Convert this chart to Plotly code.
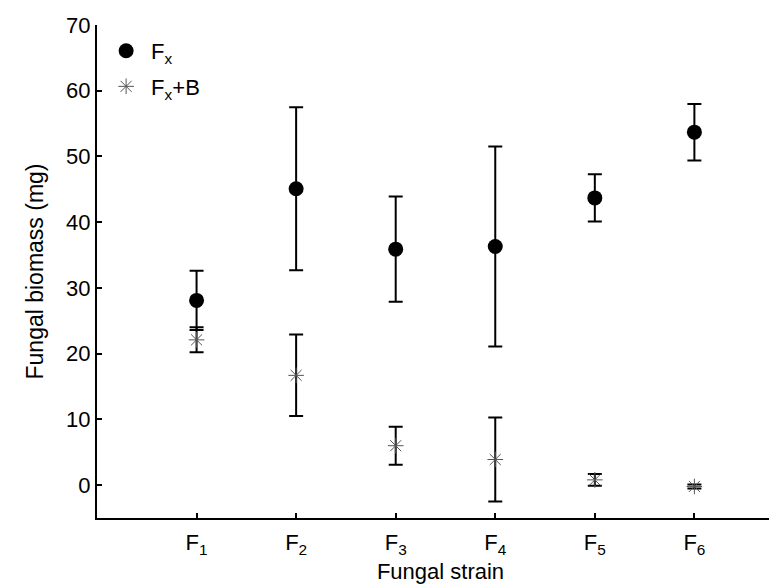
import plotly.graph_objects as go

strains = ["F<sub>1</sub>", "F<sub>2</sub>", "F<sub>3</sub>", "F<sub>4</sub>", "F<sub>5</sub>", "F<sub>6</sub>"]
positions = [1, 2, 3, 4, 5, 6]
fx_mean = [28.1, 45.1, 35.9, 36.3, 43.7, 53.7]
fx_err = [4.5, 12.4, 8.0, 15.2, 3.6, 4.3]
fxb_mean = [22.1, 16.7, 6.0, 3.9, 0.8, -0.2]
fxb_err = [1.9, 6.2, 2.9, 6.4, 0.9, 0.3]

font = "Liberation Sans, Arial, sans-serif"

fig = go.Figure()
fig.add_trace(go.Scatter(
    x=positions, y=fx_mean, mode="markers", name="F<sub>x</sub>",
    legendgroup="a",
    marker=dict(symbol="circle", size=15, color="black"),
    error_y=dict(type="data", array=fx_err, color="black", thickness=2, width=7),
))
fig.add_trace(go.Scatter(
    x=positions, y=fxb_mean, mode="markers", name="F<sub>x</sub>+B",
    legendgroup="b",
    marker=dict(symbol="asterisk-open", size=13, color="#555555",
                line=dict(width=1, color="#555555")),
    error_y=dict(type="data", array=fxb_err, color="black", thickness=2, width=7),
))

fig.update_layout(
    width=777, height=585,
    margin=dict(l=89, r=1, t=17, b=75),
    paper_bgcolor="white", plot_bgcolor="white",
    font=dict(family=font, size=22, color="black"),
    showlegend=True,
    legend=dict(x=0.006, y=0.99, xanchor="left", yanchor="top",
                bgcolor="rgba(0,0,0,0)", font=dict(size=22),
                itemwidth=40,
                traceorder="grouped", tracegroupgap=4),
    xaxis=dict(
        range=[0, 6.9], tickmode="array", tickvals=positions, ticktext=strains,
        showline=True, linecolor="black", linewidth=2, mirror=False,
        ticks="inside", ticklen=5, tickwidth=2, tickcolor="black",
        ticklabelstandoff=4,
        showgrid=False, zeroline=False,
        title=dict(text="Fungal strain", font=dict(size=22), standoff=7),
    ),
    yaxis=dict(
        range=[-5, 70], tickmode="array", tickvals=[0, 10, 20, 30, 40, 50, 60, 70],
        showline=True, linecolor="black", linewidth=2, mirror=False,
        ticks="inside", ticklen=5, tickwidth=2, tickcolor="black",
        showgrid=False, zeroline=False,
        title=dict(text="Fungal biomass (mg)", font=dict(size=23), standoff=16),
    ),
)

fig.write_html("out.html")
